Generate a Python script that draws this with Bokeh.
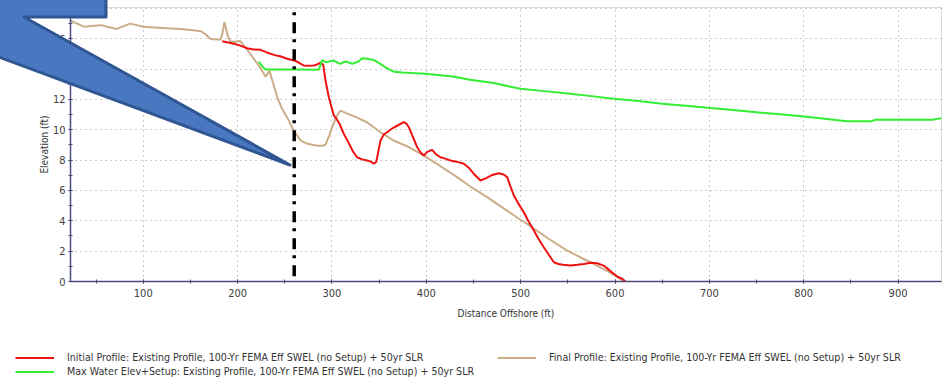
import urllib.parse
from bokeh.plotting import figure
from bokeh.models import (Range1d, SingleIntervalTicker, Legend, LegendItem, InlineStyleSheet,
                          BoxAnnotation, Grid)
from bokeh.embed import file_html
from bokeh.resources import INLINE

# ---------------- data ----------------
tan_x = [23, 30, 37, 45, 55, 65, 72, 80, 86, 93, 100, 112, 125, 140, 155, 161, 166, 171, 177, 182,
         184, 186, 188, 190, 192.5, 197, 203, 206, 210, 217, 224, 229.6, 233.8, 237, 242, 247, 252.6,
         259.5, 266.7, 273, 280.6, 285, 289.6, 293, 297, 301, 305.5, 309, 315, 325, 337, 351.5, 365,
         380, 397.4, 415, 432.7, 448, 464.5, 480, 499.8, 512, 530, 549.3, 563, 577.5, 590, 600, 605.8,
         609.5]
tan_y = [17.2, 17.0, 16.8, 16.85, 16.9, 16.75, 16.65, 16.85, 17.0, 16.9, 16.8, 16.75, 16.7, 16.65,
         16.55, 16.5, 16.3, 16.0, 15.95, 15.95, 16.4, 17.1, 16.6, 16.1, 15.8, 15.8, 15.85, 15.6, 15.3,
         14.7, 14.1, 13.5, 13.9, 13.2, 12.15, 11.4, 10.8, 9.95, 9.3, 9.1, 9.0, 8.95, 8.95, 9.0, 9.6,
         10.3, 10.94, 11.27, 11.1, 10.85, 10.5, 9.84, 9.3, 8.9, 8.3, 7.6, 6.88, 6.2, 5.56, 4.9, 4.07,
         3.58, 2.8, 2.04, 1.6, 1.17, 0.75, 0.4, 0.18, 0.0]

red_x = [183.7, 190, 196, 203, 210, 217, 224.3, 231, 238.4, 245, 252.6, 259.6, 263, 267, 270, 275,
         280.8, 284, 287.8, 290.7, 293, 296.7, 299, 302, 305, 308, 312.6, 318, 322, 326.7, 332, 337.3,
         341, 344.4, 347, 351.5, 355, 358.5, 364, 370, 376, 379, 381.5, 386, 390.4, 394, 397.4, 401,
         406.2, 410, 415, 420, 425.6, 432, 439.8, 445, 451, 457.4, 463, 469, 476.8, 482, 485.7, 489,
         492.8, 498, 503.3, 508, 514, 519, 524.5, 530, 535.2, 540, 545, 552.8, 560, 567, 574, 581, 588,
         593, 598.7, 603, 607.6, 611]
red_y = [15.84, 15.75, 15.67, 15.55, 15.38, 15.3, 15.27, 15.1, 14.94, 14.85, 14.68, 14.57, 14.5,
         14.35, 14.24, 14.22, 14.24, 14.3, 14.42, 14.3, 13.3, 12.15, 11.6, 10.95, 10.7, 10.4, 9.73,
         9.1, 8.6, 8.19, 8.05, 7.98, 7.9, 7.76, 7.9, 9.3, 9.7, 9.84, 10.1, 10.3, 10.5, 10.4, 10.17,
         9.5, 8.85, 8.5, 8.3, 8.55, 8.68, 8.4, 8.19, 8.1, 7.98, 7.9, 7.76, 7.5, 7.05, 6.66, 6.8, 7.0,
         7.14, 7.05, 6.88, 6.3, 5.67, 5.1, 4.57, 4.0, 3.36, 2.8, 2.26, 1.75, 1.27, 1.15, 1.1, 1.05,
         1.1, 1.15, 1.23, 1.2, 1.05, 0.8, 0.5, 0.3, 0.18, 0.0]

green_x = [222.5, 226, 229.6, 245, 265, 286, 288, 289.6, 292, 295, 298, 302, 305, 309, 312, 316, 319,
           321.5, 324, 326.7, 329, 332, 337, 344.4, 350, 355, 360, 366, 375, 385, 399, 415, 430, 446,
           470, 499.6, 525, 550, 575, 598.4, 625, 650, 675, 700.9, 725, 750, 775, 799.8, 820, 845.4,
           872, 876, 900, 936.5, 946]
green_y = [14.5, 14.2, 13.98, 13.98, 13.98, 13.96, 14.3, 14.6, 14.5, 14.46, 14.52, 14.57, 14.45,
           14.35, 14.45, 14.5, 14.4, 14.35, 14.42, 14.46, 14.55, 14.72, 14.68, 14.6, 14.4, 14.18,
           14.0, 13.82, 13.78, 13.74, 13.7, 13.6, 13.5, 13.3, 13.1, 12.7, 12.55, 12.4, 12.22, 12.04,
           11.9, 11.72, 11.58, 11.43, 11.3, 11.15, 11.02, 10.88, 10.75, 10.57, 10.57, 10.66, 10.66,
           10.66, 10.77]

marker_x = 260            # vertical dash-dot reference line
marker_y = [0.35, 17.85]

x_ticks = [100, 200, 300, 400, 500, 600, 700, 800, 900]

labels = ["Initial Profile: Existing Profile, 100-Yr FEMA Eff SWEL (no Setup) + 50yr SLR",
          "Max Water Elev+Setup: Existing Profile, 100-Yr FEMA Eff SWEL (no Setup) + 50yr SLR",
          "Final Profile: Existing Profile, 100-Yr FEMA Eff SWEL (no Setup) + 50yr SLR"]

# plotting area (data units) and full view (data units covering the whole canvas)
X_LO, X_HI, Y_LO, Y_HI = 22.9, 946.1, 0.0, 18.06
VIEW_X = (-51.3, 947.1)
VIEW_Y = (-6.394, 18.524)

FONT = "Liberation Sans Narrow, DejaVu Sans Condensed, sans-serif"
AXIS_C = "#4b4b7d"

p = figure(width=942, height=378, x_range=Range1d(*VIEW_X), y_range=Range1d(*VIEW_Y),
           output_backend="svg", toolbar_location=None,
           min_border_left=0, min_border_right=0, min_border_top=0, min_border_bottom=0)
p.outline_line_color = None

p.xaxis.ticker = SingleIntervalTicker(interval=100, num_minor_ticks=2)
p.yaxis.ticker = SingleIntervalTicker(interval=2, num_minor_ticks=2)
p.xaxis.fixed_location = Y_LO
p.yaxis.fixed_location = X_LO
p.xaxis.bounds = (X_LO, X_HI)
p.yaxis.bounds = (Y_LO, Y_HI)

for ax in (p.xaxis, p.yaxis):
    ax.axis_line_color = AXIS_C
    ax.axis_line_width = 1.5
    ax.major_tick_line_color = AXIS_C
    ax.minor_tick_line_color = AXIS_C
    ax.major_tick_in = 2
    ax.major_tick_out = 2
    ax.minor_tick_in = 2
    ax.minor_tick_out = 2
    ax.major_label_text_font = FONT
    ax.major_label_text_font_size = "11px"
    ax.major_label_text_color = "#404040"
    ax.axis_label_text_font = FONT
    ax.axis_label_text_font_size = "10px"
    ax.axis_label_text_font_style = "normal"
    ax.axis_label_text_color = "#333333"

p.xaxis.axis_label = "Distance Offshore (ft)"
p.yaxis.axis_label = "Elevation (ft)"
p.xaxis.major_label_standoff = 5
p.yaxis.major_label_standoff = 3
p.xaxis.axis_label_standoff = 8
p.yaxis.axis_label_standoff = 0

has_cross = "cross_bounds" in Grid.properties()
p.xgrid.bounds = (X_LO, X_HI)
p.ygrid.bounds = (Y_LO, Y_HI)
if has_cross:
    p.xgrid.cross_bounds = (Y_LO, Y_HI)
    p.ygrid.cross_bounds = (X_LO, X_HI)
for g in (p.xgrid, p.ygrid):
    g.grid_line_color = "#999999"
    g.grid_line_dash = "1 4"
    g.grid_line_width = 1
if not has_cross:
    p.xgrid.visible = False
    p.segment(x0=x_ticks, y0=[Y_LO] * len(x_ticks), x1=x_ticks, y1=[Y_HI] * len(x_ticks),
              line_color="#999999", line_dash="1 4", line_width=1, level="underlay")

# plot-area border (top / right visible)
p.add_layout(BoxAnnotation(left=X_LO, right=X_HI, bottom=Y_LO, top=Y_HI, fill_alpha=0,
                           line_color="#808080", line_width=1, level="underlay"))

r_tan = p.line(tan_x, tan_y, line_color="#cbad88", line_width=2)
r_red = p.line(red_x, red_y, line_color="#ee1111", line_width=2)
r_green = p.line(green_x, green_y, line_color="#33ee33", line_width=2)

p.segment(x0=[marker_x], y0=[marker_y[0]], x1=[marker_x], y1=[marker_y[1]],
          line_color="black", line_width=3.5, line_dash="11 7 3 6")

leg_style = dict(orientation="vertical", glyph_width=39, glyph_height=13, label_height=13,
                 label_standoff=13, spacing=1, padding=0, margin=0,
                 border_line_color=None, background_fill_alpha=0,
                 label_text_font=FONT, label_text_font_size="10.6px",
                 label_text_color="#333333")
legend_a = Legend(items=[LegendItem(label=labels[0], renderers=[r_red]),
                         LegendItem(label=labels[1], renderers=[r_green])],
                  location=(15, 0.5), **leg_style)
legend_b = Legend(items=[LegendItem(label=labels[2], renderers=[r_tan])],
                  location=(497, 14.5), **leg_style)
p.add_layout(legend_a)
p.add_layout(legend_b)

# PowerPoint-style callout drawn over the chart (decoration, page pixels)
callout_svg = ("<svg xmlns='http://www.w3.org/2000/svg' width='300' height='172'>"
               "<polygon points='-4,-4 106,-4 106,17 24,17 290,165 -4,56' fill='#4a78c0' "
               "stroke='#2f5592' stroke-width='3' stroke-linejoin='round'/></svg>")
callout_css = (":host::after { content: ''; position: absolute; left: 0; top: 0; "
               "width: 300px; height: 172px; background-repeat: no-repeat; z-index: 100; "
               "pointer-events: none; background-image: url(\"data:image/svg+xml,"
               + urllib.parse.quote(callout_svg) + "\"); }")
p.stylesheets = [InlineStyleSheet(css=callout_css)]

open("out.html", "w").write(file_html(p, INLINE))
